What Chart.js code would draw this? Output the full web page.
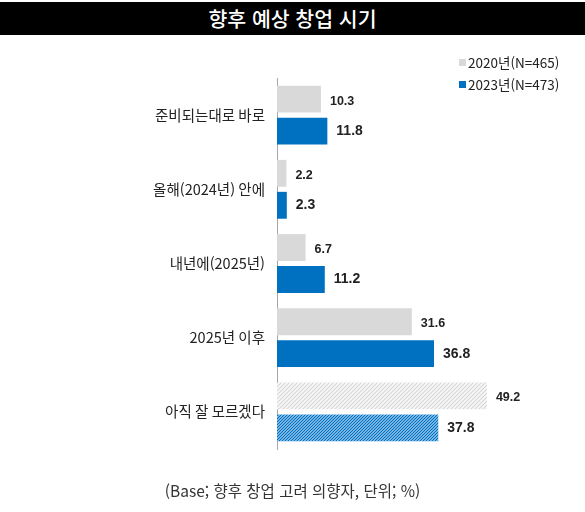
<!DOCTYPE html>
<html lang="ko">
<head>
<meta charset="utf-8">
<script src="https://cdn.jsdelivr.net/npm/chart.js@4"></script>
<style>
  html, body { margin: 0; padding: 0; background: #fff; }
  body { width: 585px; height: 512px; position: relative; overflow: hidden;
         font-family: "Noto Sans CJK KR", "Noto Sans", sans-serif; }
  #title { position: absolute; left: 0; top: 2px; width: 585px; height: 33px; background: #000;
           color: #fff; font-size: 20.5px; font-weight: 500; text-align: center; line-height: 33px; }
  #legend { position: absolute; left: 459px; top: 51px; font-size: 13.5px; color: #222; }
  #legend div { height: 22px; line-height: 22px; white-space: nowrap; }
  #legend span { display: inline-block; width: 7px; height: 7px; margin-right: 2px; vertical-align: 2px; }
  #note { position: absolute; left: 0; top: 479px; width: 585px; text-align: center;
          font-size: 15.5px; color: #333; }
  #wrap { position: absolute; left: 0; top: 0; width: 585px; height: 512px; }
</style>
</head>
<body>
<div id="wrap"><canvas id="chart"></canvas></div>
<div id="title">향후 예상 창업 시기</div>
<div id="legend">
  <div><span style="background:#d9d9d9"></span>2020년(N=465)</div>
  <div><span style="background:#0070c0"></span>2023년(N=473)</div>
</div>
<div id="note">(Base; 향후 창업 고려 의향자, 단위; %)</div>
<script>
const categories = ['준비되는대로 바로', '올해(2024년) 안에', '내년에(2025년)', '2025년 이후', '아직 잘 모르겠다'];
const seriesNames = ['2020년(N=465)', '2023년(N=473)'];
const values2020 = [10.3, 2.2, 6.7, 31.6, 49.2];
const values2023 = [11.8, 2.3, 11.2, 36.8, 37.8];

function hatch(bg, line, size, width) {
  const c = document.createElement('canvas');
  c.width = size; c.height = size;
  const g = c.getContext('2d');
  g.fillStyle = bg; g.fillRect(0, 0, size, size);
  g.strokeStyle = line; g.lineWidth = width;
  g.beginPath();
  g.moveTo(0, size); g.lineTo(size, 0);
  g.moveTo(-size, size); g.lineTo(size, -size);
  g.moveTo(0, 2 * size); g.lineTo(2 * size, 0);
  g.stroke();
  return g.createPattern(c, 'repeat');
}

const ctx = document.getElementById('chart').getContext('2d');
const grayHatch = hatch('#f8f8f8', '#d6d6d6', 4, 1.1);
const blueHatch = hatch('#e8f2fb', '#0072c6', 3, 1.4);

const grayColors = values2020.map((v, i) => i === 4 ? grayHatch : '#d9d9d9');
const blueColors = values2023.map((v, i) => i === 4 ? blueHatch : '#0070c0');

const valueLabels = {
  id: 'valueLabels',
  afterDatasetsDraw(chart) {
    const c = chart.ctx;
    chart.data.datasets.forEach((ds, di) => {
      chart.getDatasetMeta(di).data.forEach((bar, i) => {
        c.save();
        c.fillStyle = '#222';
        c.textBaseline = 'middle';
        c.font = di === 0 ? 'bold 12.5px "Liberation Sans", sans-serif' : 'bold 14px "Liberation Sans", sans-serif';
        c.fillText(ds.data[i].toFixed(1), bar.x + 9, bar.y + (di === 0 ? 2 : 0));
        c.restore();
      });
    });
  }
};

new Chart(ctx, {
  type: 'bar',
  data: {
    labels: categories,
    datasets: [{
      label: seriesNames[0],
      data: values2020,
      backgroundColor: grayColors,
      borderWidth: 0
    }, {
      label: seriesNames[1],
      data: values2023,
      backgroundColor: blueColors,
      borderWidth: 0
    }]
  },
  options: {
    indexAxis: 'y',
    responsive: true,
    maintainAspectRatio: false,
    animation: false,
    categoryPercentage: 0.862,
    barPercentage: 0.84,
    layout: { padding: { top: 78, bottom: 63, left: 0, right: 52 } },
    plugins: {
      legend: { display: false },
      tooltip: { enabled: false }
    },
    scales: {
      x: { display: false, min: 0, max: 60 },
      y: {
        grid: { display: false, drawTicks: false },
        border: { display: true, color: '#a6a6a6', width: 1 },
        ticks: {
          color: '#222',
          padding: 12,
          font: { family: '"Noto Sans CJK KR", sans-serif', size: 14.5 }
        },
        afterFit(scale) { scale.width = 277; }
      }
    }
  },
  plugins: [valueLabels]
});
</script>
</body>
</html>
